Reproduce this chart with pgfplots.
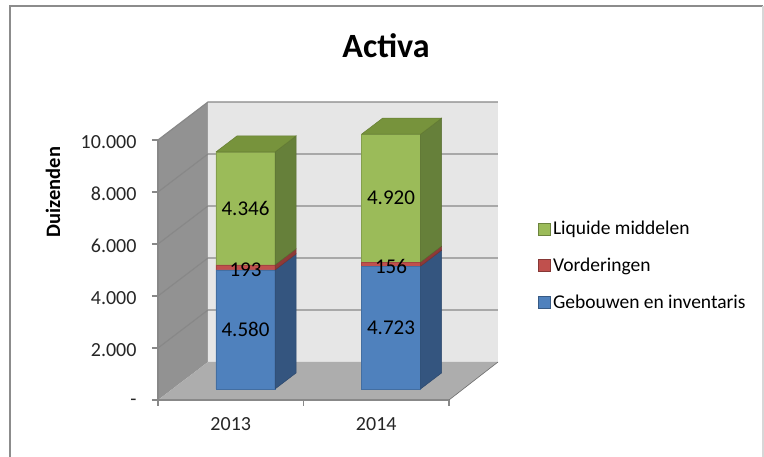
\documentclass[border=0pt]{standalone}
\usepackage{fontspec}
\setmainfont{Carlito}
\usepackage{pgfplots}
\usepackage{pgfplotstable}
\pgfplotsset{compat=1.18}

\definecolor{gBlue}{HTML}{4F81BD}
\definecolor{gBlueS}{HTML}{34557F}
\definecolor{gRed}{HTML}{C0504D}
\definecolor{gRedS}{HTML}{8E3A38}
\definecolor{gGreen}{HTML}{9BBB59}
\definecolor{gGreenS}{HTML}{66803A}
\definecolor{gGreenT}{HTML}{77933C}
\definecolor{wallL}{HTML}{929292}
\definecolor{wallB}{HTML}{E6E6E6}
\definecolor{floorC}{HTML}{ADADAD}
\definecolor{gridC}{HTML}{888888}
\definecolor{frameC}{HTML}{8C8C8C}

\pgfplotstableread{
year idx g v l
2013 0 4580 193 4346
2014 1 4723 156 4920
}\activa

\pgfplotstablegetelem{0}{g}\of\activa\let\gA\pgfplotsretval
\pgfplotstablegetelem{0}{v}\of\activa\let\vA\pgfplotsretval
\pgfplotstablegetelem{0}{l}\of\activa\let\lA\pgfplotsretval
\pgfplotstablegetelem{1}{g}\of\activa\let\gB\pgfplotsretval
\pgfplotstablegetelem{1}{v}\of\activa\let\vB\pgfplotsretval
\pgfplotstablegetelem{1}{l}\of\activa\let\lB\pgfplotsretval
\pgfmathsetmacro\aO{423+\gA}\pgfmathsetmacro\aT{\aO+\vA}\pgfmathsetmacro\aH{\aT+\lA}
\pgfmathsetmacro\bO{423+\gB}\pgfmathsetmacro\bT{\bO+\vB}\pgfmathsetmacro\bH{\bT+\lB}

\newcommand\sideface[4]{% x right front, v bottom, v top, colour
  \pgfmathsetmacro\sfx{#1+21}\pgfmathsetmacro\sfa{#2+615}\pgfmathsetmacro\sfb{#3+615}%
  \edef\sftmp{\noexpand\addplot[forget plot,fill=#4,draw=#4!85!black,line width=0.5pt] coordinates {(#1,#2) (\sfx,\sfa) (\sfx,\sfb) (#1,#3) (#1,#2)};}\sftmp}
\newcommand\topface[4]{% x left, x right, v, colour
  \pgfmathsetmacro\tfl{#1+21}\pgfmathsetmacro\tfr{#2+21}\pgfmathsetmacro\tfv{#3+615}%
  \edef\tftmp{\noexpand\addplot[forget plot,fill=#4,draw=#4!85!black,line width=0.5pt] coordinates {(#1,#3) (\tfl,\tfv) (\tfr,\tfv) (#2,#3) (#1,#3)};}\tftmp}

\pgfplotsset{
  frame3d/.style={scale only axis, width=291pt, height=260pt,
    xmin=158, xmax=449, ymin=0, ymax=10000, clip=false},
  /pgf/number format/assume math mode=true,
}
\newcommand\lblfont{\fontsize{20}{24}\selectfont}

\begin{document}
\begin{tikzpicture}
% ---------- background: walls, floor, gridlines, axes ----------
\begin{axis}[frame3d, axis on top,
  axis x line*=bottom, axis y line*=left,
  axis line style={gridC, line width=1.3pt},
  tick align=outside, major tick length=6pt,
  tick style={gridC, line width=1.3pt},
  scaled y ticks=false,
  ytick={0,2000,4000,6000,8000,10000},
  yticklabels={-\hspace{9pt},2.000,4.000,6.000,8.000,10.000},
  yticklabel style={font=\lblfont, text=black!85, xshift=-12pt, yshift=-2pt},
  xtick={158,303.5,449}, xticklabels={},
  extra x ticks={230.75,376.25}, extra x tick labels={2013,2014},
  extra x tick style={major tick length=0pt,
    tick label style={font=\lblfont, text=black!85, yshift=-14pt}},
  ylabel={Duizenden},
  ylabel style={font=\bfseries\fontsize{20.5}{24}\selectfont,
    at={(rel axis cs:-0.3608,0.8)}, anchor=center},
]
\fill[white] (axis cs:0,-2192.3) rectangle (axis cs:764,15384.6);
\coordinate (bbSW) at (axis cs:0,-2192.3);
\coordinate (bbNE) at (axis cs:764,15384.6);
\draw[frameC, line width=2pt] (axis cs:10,-2961.5) -- (axis cs:10,15153.8) -- (axis cs:763,15153.8);
\draw[frameC!35, line width=1.5pt] (axis cs:763,15153.8) -- (axis cs:763,-2961.5);
\node[font=\bfseries\fontsize{34}{40}\selectfont, text=black] at (axis cs:386,13615) {Activa};
% walls
\addplot[fill=wallL, draw=none] coordinates {(158,0) (208,1461.5) (208,11461.5) (158,10000) (158,0)};
\addplot[fill=wallB, draw=none] coordinates {(208,1461.5) (498,1461.5) (498,11461.5) (208,11461.5) (208,1461.5)};
% gridlines
\addplot[gridC, line width=1.2pt] coordinates {(158,2000) (208,3461.5) (498,3461.5)};
\addplot[gridC, line width=1.2pt] coordinates {(158,4000) (208,5461.5) (498,5461.5)};
\addplot[gridC, line width=1.2pt] coordinates {(158,6000) (208,7461.5) (498,7461.5)};
\addplot[gridC, line width=1.2pt] coordinates {(158,8000) (208,9461.5) (498,9461.5)};
\addplot[gridC, line width=1.2pt] coordinates {(158,10000) (208,11461.5) (498,11461.5)};
% floor
\addplot[fill=floorC, draw=none] coordinates {(158,0) (449,0) (498,1461.5) (208,1461.5) (158,0)};
\addplot[gridC!80!black, line width=0.6pt] coordinates {(449,0) (498,1461.5)};
\end{axis}

% ---------- front faces of the stacked bars ----------
\begin{axis}[frame3d, axis lines=none, ybar stacked, bar width=59]
\addplot[draw=none, fill=none] table[x expr={245.5+145.5*\thisrow{idx}}, y expr={423}] \activa;
\addplot[fill=gBlue, draw=gBlue!85!black, line width=0.6pt] table[x expr={245.5+145.5*\thisrow{idx}}, y=g] \activa;
\addplot[fill=gRed, draw=gRed!85!black, line width=0.6pt] table[x expr={245.5+145.5*\thisrow{idx}}, y=v] \activa;
\addplot[fill=gGreen, draw=gGreen!85!black, line width=0.6pt] table[x expr={245.5+145.5*\thisrow{idx}}, y=l] \activa;
\end{axis}

% ---------- side and top faces, value labels, legend ----------
\begin{axis}[frame3d, axis lines=none,
  legend image code/.code={\draw[#1] (0pt,-6pt) rectangle (12pt,6pt);},
  legend style={at={(axis cs:535,5173)}, anchor=west, draw=none, fill=none,
    font=\fontsize{19.5}{23}\selectfont, row sep=17.5pt},
  legend cell align=left,
  every node near coord/.append style={font=\fontsize{21}{25}\selectfont, text=black, anchor=center},
  /pgf/number format/.cd, 1000 sep={.}, fixed, precision=0,
]
\sideface{275}{423}{\aO}{gBlueS}
\sideface{275}{\aO}{\aT}{gRedS}
\sideface{275}{\aT}{\aH}{gGreenS}
\topface{216}{275}{\aH}{gGreenT}
\sideface{420.5}{423}{\bO}{gBlueS}
\sideface{420.5}{\bO}{\bT}{gRedS}
\sideface{420.5}{\bT}{\bH}{gGreenS}
\topface{361.5}{420.5}{\bH}{gGreenT}
% value labels at segment middles
\addplot[forget plot, draw=none, mark=none, nodes near coords, point meta=explicit]
  table[x expr={245.5+145.5*\thisrow{idx}}, y expr={423+\thisrow{g}/2}, meta=g] \activa;
\addplot[forget plot, draw=none, mark=none, nodes near coords, point meta=explicit,
  every node near coord/.append style={yshift=-2pt}]
  table[x expr={245.5+145.5*\thisrow{idx}}, y expr={423+\thisrow{g}+\thisrow{v}/2}, meta=v] \activa;
\addplot[forget plot, draw=none, mark=none, nodes near coords, point meta=explicit]
  table[x expr={245.5+145.5*\thisrow{idx}}, y expr={423+\thisrow{g}+\thisrow{v}+\thisrow{l}/2}, meta=l] \activa;
\addlegendimage{fill=gGreen, draw=gGreen!70!black, line width=0.8pt}
\addlegendentry{Liquide middelen}
\addlegendimage{fill=gRed, draw=gRed!70!black, line width=0.8pt}
\addlegendentry{Vorderingen}
\addlegendimage{fill=gBlue, draw=gBlue!70!black, line width=0.8pt}
\addlegendentry{Gebouwen en inventaris}
\end{axis}
\pgfresetboundingbox
\useasboundingbox (bbSW) rectangle (bbNE);
\end{tikzpicture}
\end{document}
